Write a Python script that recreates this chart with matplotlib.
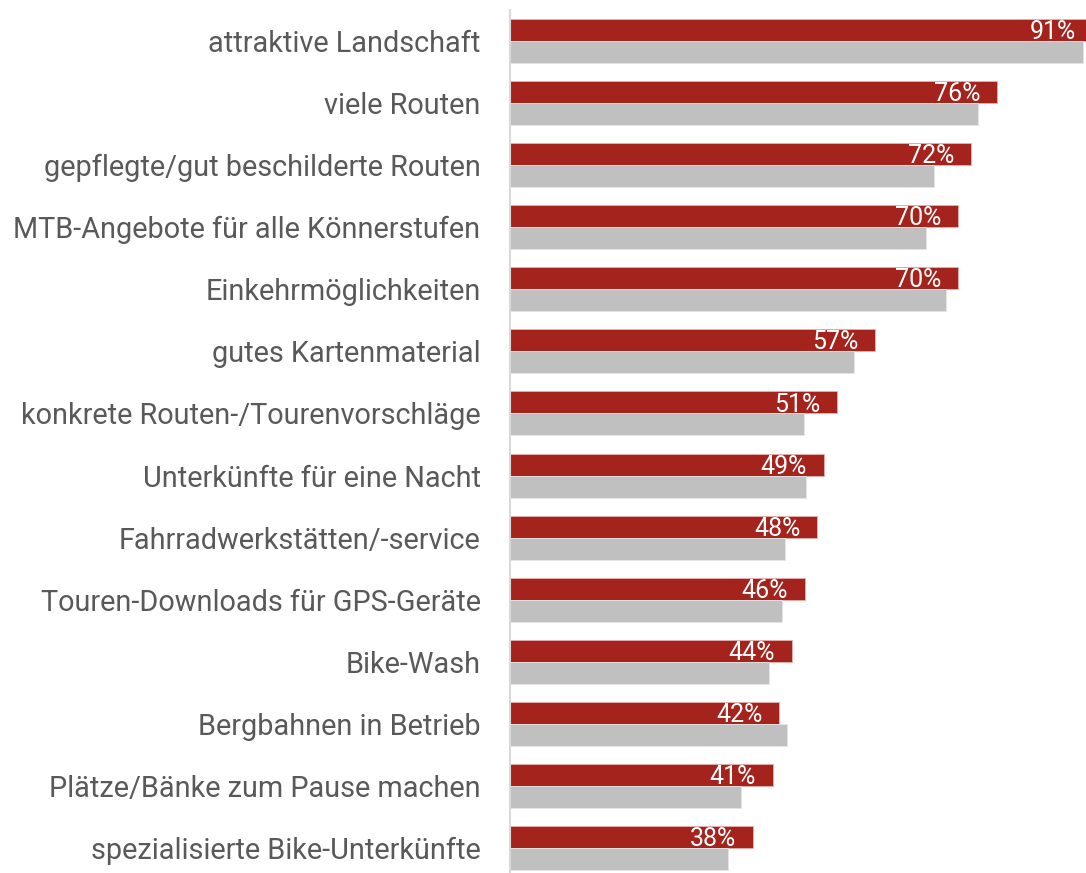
import matplotlib
matplotlib.use("Agg")
import matplotlib.pyplot as plt
import numpy as np

plt.rcParams['font.family'] = ['Roboto', 'DejaVu Sans']

categories = [
    'attraktive Landschaft',
    'viele Routen',
    'gepflegte/gut beschilderte Routen',
    'MTB-Angebote für alle Könnerstufen',
    'Einkehrmöglichkeiten',
    'gutes Kartenmaterial',
    'konkrete Routen-/Tourenvorschläge',
    'Unterkünfte für eine Nacht',
    'Fahrradwerkstätten/-service',
    'Touren-Downloads für GPS-Geräte',
    'Bike-Wash',
    'Bergbahnen in Betrieb',
    'Plätze/Bänke zum Pause machen',
    'spezialisierte Bike-Unterkünfte',
]
values_red = [91, 76, 72, 70, 70, 57, 51, 49, 48, 46, 44, 42, 41, 38]
values_gray = [89.4, 73.1, 66.2, 64.9, 68.1, 53.7, 45.9, 46.3, 42.9, 42.5, 40.4, 43.2, 36.1, 34.1]

RED = '#a5231d'
GRAY = '#c0c0c0'
LABEL = '#595959'

W, H = 1086, 873
fig = plt.figure(figsize=(W / 100, H / 100), dpi=100)
fig.patch.set_facecolor('white')

x0 = 509.7
ax = fig.add_axes([x0 / W, 0, 1 - x0 / W, 1 - 10 / H])

y = np.arange(len(categories))
h = 22 / 62
ax.barh(y - h / 2, values_red, height=h, color=RED, edgecolor='#e8b0ae', linewidth=0.6)
ax.barh(y + h / 2, values_gray, height=h, color=GRAY, edgecolor='#e6e6e6', linewidth=0.6)

px_per_unit = 6.41
ax.set_xlim(0, (W - x0) / px_per_unit)
ax.set_ylim(13 + 25 / 62, -0.5)

for yi, v in zip(y, values_red):
    ax.annotate(f'{v}%', xy=(v, yi - h / 2), xytext=(-12, -1.5),
                textcoords='offset points', ha='right', va='center',
                fontsize=18, color='white', annotation_clip=False)

ax.set_yticks(y)
ax.set_yticklabels(categories, fontsize=20.8, color=LABEL)
ax.tick_params(axis='y', length=0, pad=21)
ax.set_xticks([])
for s in ['top', 'right', 'bottom']:
    ax.spines[s].set_visible(False)
ax.spines['left'].set_color('#d9d9d9')
ax.spines['left'].set_linewidth(1.5)

fig.savefig('out.png', dpi=100, facecolor='white')
